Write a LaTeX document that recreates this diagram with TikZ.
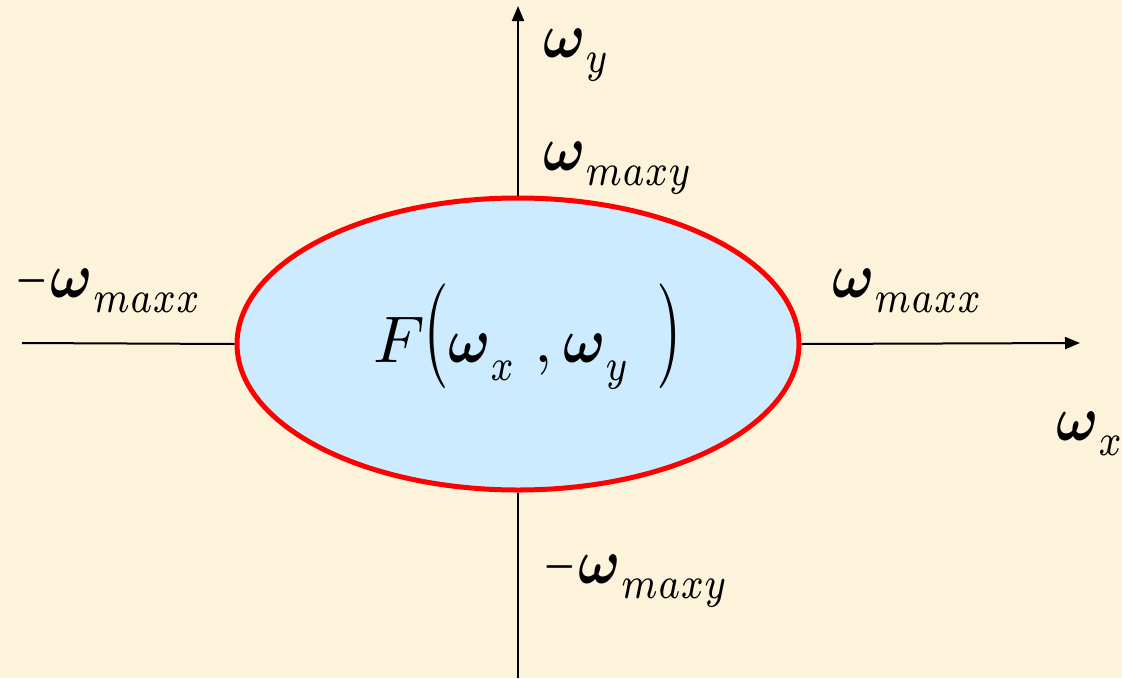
\documentclass[tikz,border=0pt]{standalone}
\usepackage{amsmath,bm}
\usetikzlibrary{shapes.geometric,arrows.meta}
\definecolor{bg}{RGB}{253,243,219}
\definecolor{fillblue}{RGB}{204,235,255}
\newcommand\bigs[1]{\scalebox{6.6}{#1}}
\newcommand\omg{\scalebox{5.6}[6.4]{$\bm{\omega}$}}
\newcommand\subs[1]{\scalebox{5.2}[6.4]{$\scriptstyle #1$}}
\newcommand\om[1]{\omg\raisebox{-15pt}{\subs{#1}}}
\newcommand\omf[1]{\omg\raisebox{-18pt}{\subs{#1}}}
\newcommand\mns{\scalebox{4.2}[6.6]{$-$}\hspace{3pt}}
\newcommand\bigparen[1]{\scalebox{6.6}[10.5]{$#1$}}
\newcommand\at[2]{\rlap{\hspace*{#1}#2}}
\begin{document}
\begin{tikzpicture}[x=1pt,y=-1pt,
  lbl/.style={anchor=base west,inner sep=0pt},
  axis/.style={line width=2pt,black},
  arr/.style={axis,-{Triangle[length=15pt,width=12pt]}}]
\fill[bg] (0,0) rectangle (1122,678);
\useasboundingbox (0,0) rectangle (1122,678);
\node[ellipse,draw=red,line width=5pt,fill=fillblue,minimum width=562pt,minimum height=292pt,inner sep=0pt] (F) at (518,344) {};
\node[lbl] (Ftext) at (373,362) {\at{0pt}{\bigs{$F$}}\at{50pt}{\bigparen{(}}\at{75pt}{\omf{x}}\at{161pt}{\bigs{$,$}}\at{190pt}{\omf{y}}\at{283pt}{\bigparen{)}}\hspace*{305pt}};
\coordinate (xl) at (22,343);
\coordinate (xr) at (1080,343);
\coordinate (yb) at (518,678);
\coordinate (yt) at (518,6);
\draw[axis] (xl) -- (F.west);
\draw[arr] (F.east) -- (xr);
\draw[axis] (yb) -- (F.south);
\draw[arr] (F.north) -- (yt);
\node[lbl] (wy) at (543,57) {\om{y}};
\node[lbl] (wmaxy) at (543,170) {\om{maxy}};
\node[lbl] (nwmaxx) at (15,297) {\mns\om{maxx}};
\node[lbl] (wmaxx) at (832,297) {\om{maxx}};
\node[lbl] (wx) at (1056,440) {\om{x}};
\node[lbl] (nwmaxy) at (543,583) {\mns\om{maxy}};
\end{tikzpicture}
\end{document}
